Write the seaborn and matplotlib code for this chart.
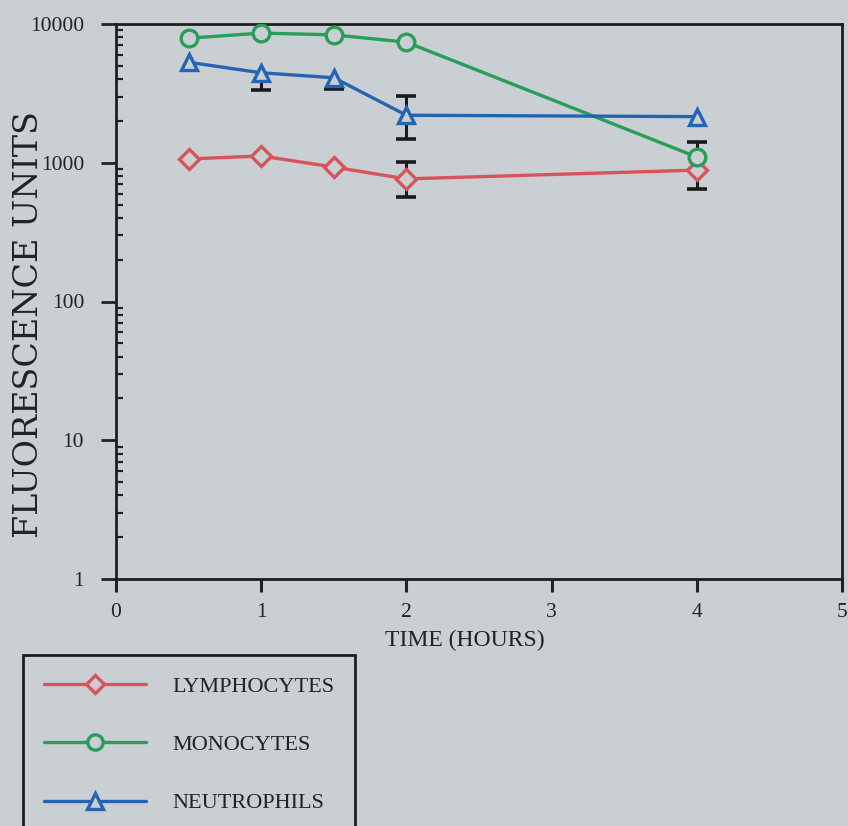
import numpy as np
import pandas as pd
import matplotlib
matplotlib.use("Agg")
import matplotlib.pyplot as plt
import seaborn as sns

# ---- data ----
time_h = [0.5, 1.0, 1.5, 2.0, 4.0]
lymphocytes = [1065, 1120, 930, 765, 885]
monocytes = [7900, 8600, 8350, 7400, 1100]
neutrophils = [5300, 4450, 4100, 2200, 2150]
series_names = ["LYMPHOCYTES", "MONOCYTES", "NEUTROPHILS"]

# error bar ends (one-sided, as visible): (series, time, end value)
err_series = ["NEUTROPHILS", "NEUTROPHILS", "NEUTROPHILS", "NEUTROPHILS",
              "LYMPHOCYTES", "LYMPHOCYTES", "LYMPHOCYTES", "MONOCYTES"]
err_time = [1.0, 1.5, 2.0, 2.0, 2.0, 2.0, 4.0, 4.0]
err_end = [3350, 3400, 3030, 1480, 1010, 566, 650, 1410]

y_ticks = [1, 10, 100, 1000, 10000]
y_ticklabels = ["1", "10", "100", "1000", "10000"]
x_ticks = [0, 1, 2, 3, 4, 5]

bg = "#c9cfd3"
colors = {"LYMPHOCYTES": "#d9535b", "MONOCYTES": "#2a9d58", "NEUTROPHILS": "#2465b3"}
markers = {"LYMPHOCYTES": "D", "MONOCYTES": "o", "NEUTROPHILS": "^"}
msizes = {"LYMPHOCYTES": 10, "MONOCYTES": 12, "NEUTROPHILS": 12}

df = pd.DataFrame({
    "time": time_h * 3,
    "value": lymphocytes + monocytes + neutrophils,
    "cell": [s for s in series_names for _ in time_h],
})
values_by = {"LYMPHOCYTES": lymphocytes, "MONOCYTES": monocytes, "NEUTROPHILS": neutrophils}

sns.set_theme(style="ticks")
plt.rcParams["font.family"] = ["Liberation Serif", "DejaVu Serif"]

fig = plt.figure(figsize=(8.48, 8.26), dpi=100, facecolor=bg)
ax = fig.add_axes([116 / 848, (826 - 579) / 826, (842 - 116) / 848, (579 - 24) / 826])
ax.set_facecolor(bg)

# error bars (behind markers)
for s, t, e in zip(err_series, err_time, err_end):
    v = values_by[s][time_h.index(t)]
    ax.plot([t, t], [v, e], color="#1a1a1a", lw=2.2, zorder=2, solid_capstyle="butt")
    ax.plot([t], [e], marker="_", ms=15, mew=2.6, color="#1a1a1a", zorder=2)

for s in series_names:
    sub = df[df["cell"] == s]
    sns.lineplot(data=sub, x="time", y="value", ax=ax, color=colors[s],
                 marker=markers[s], markersize=msizes[s], markerfacecolor=bg,
                 markeredgecolor=colors[s], markeredgewidth=2.4, linewidth=2.4,
                 label=s, zorder=3, legend=False)

ax.set_yscale("log")
ax.set_xlim(0, 5)
ax.set_ylim(1, 10000)
ax.set_xticks(x_ticks)
ax.set_xticklabels([str(t) for t in x_ticks])
ax.set_yticks(y_ticks)
ax.set_yticklabels(y_ticklabels)
ax.yaxis.set_minor_locator(matplotlib.ticker.LogLocator(base=10, subs=np.arange(2, 10)))
ax.yaxis.set_minor_formatter(matplotlib.ticker.NullFormatter())
ax.tick_params(axis="y", which="major", direction="out", length=11, width=2, pad=12,
               labelsize=15.5, colors="#222222")
ax.tick_params(axis="y", which="minor", direction="in", length=5, width=1.6, color="#222222")
ax.tick_params(axis="x", which="major", direction="out", length=9, width=2.2, pad=8,
               labelsize=15.5, colors="#222222")
for sp in ax.spines.values():
    sp.set_color("#1e1e1e")
    sp.set_linewidth(2.0)

ax.set_xlabel("")
ax.set_ylabel("")
fig.text(29 / 848, 1 - 325 / 826, "FLUORESCENCE UNITS", fontsize=24, family="DejaVu Serif",
         color="#222222", rotation=90, ha="center", va="center")
fig.text(385 / 848, 1 - 640 / 826, "TIME (HOURS)", fontsize=17, color="#222222",
         ha="left", va="center")

handles = [matplotlib.lines.Line2D([], [], color=colors[s], marker=markers[s],
                                   markersize=msizes[s] - 1, markerfacecolor=bg,
                                   markeredgecolor=colors[s], markeredgewidth=2.4,
                                   linewidth=2.4) for s in series_names]
leg = fig.legend(handles, series_names, loc="upper left",
                 bbox_to_anchor=(23 / 848, 1 - 655 / 826), frameon=True, fancybox=False,
                 fontsize=16, handlelength=4.6, handletextpad=1.15, labelspacing=1.7,
                 borderpad=0.95, borderaxespad=0, facecolor=bg, edgecolor="#1e1e1e",
                 framealpha=1)
leg.get_frame().set_linewidth(2.0)
for txt in leg.get_texts():
    txt.set_color("#222222")

fig.savefig("out.png", dpi=100, facecolor=bg)
